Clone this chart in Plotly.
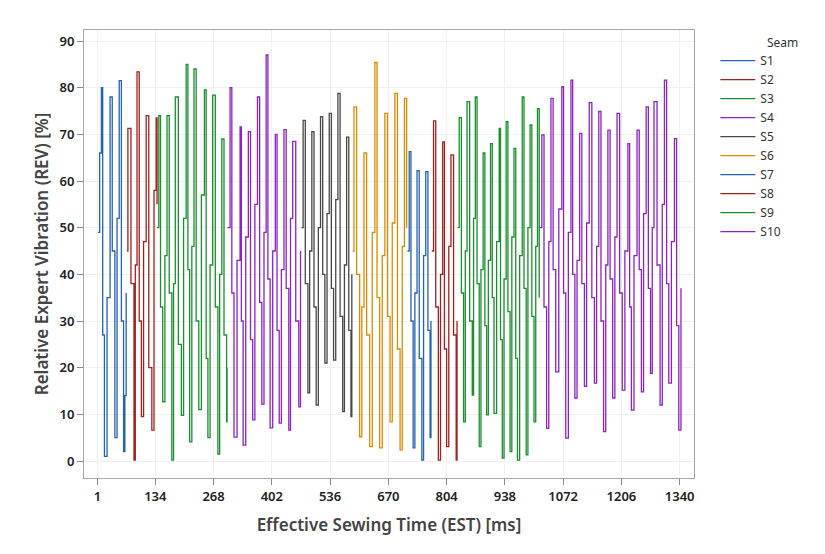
import plotly.graph_objects as go

# ---- data (time in ms, vibration in %) ----
S1_x = [2, 6, 10, 13, 17, 23, 30, 35, 41, 46, 51, 56, 61, 64, 67]
S1_y = [49, 66, 80, 27, 1, 35, 78, 45, 5, 52, 81.5, 30, 2, 14, 36]

S2_x = [69, 71, 78, 85, 88, 92, 97, 102, 107, 113, 119, 126, 131, 136, 138]
S2_y = [45, 71.3, 38, 0.2, 42, 83.4, 30, 9.5, 47, 74, 20, 6.6, 58, 73.5, 55]

S3_x = [138, 142, 146, 151, 156, 161, 166, 172, 176, 180, 187, 194, 199, 205, 209, 213,
        218, 223, 228, 234, 240, 247, 251, 255, 260, 266, 272, 278, 282, 287, 292, 298, 299]
S3_y = [50, 74, 33, 12.7, 44, 74, 36, 0.2, 38, 78, 25, 9.8, 52, 85, 41, 4.1,
        46, 84, 30, 11, 57, 79.5, 22, 5, 42, 78.4, 33, 1.5, 40, 69, 27, 8.4, 20]

S4_x = [300, 306, 310, 315, 322, 329, 332, 336, 342, 348, 353, 358, 363, 369, 374, 379,
        384, 389, 393, 398, 404, 410, 414, 419, 424, 430, 435, 441, 445, 450, 457, 464, 468]
S4_y = [50, 80, 36, 5.1, 43, 71.6, 30, 3.4, 48, 70.6, 26, 8.8, 55, 78, 34, 12.2,
        49, 87, 39, 7.1, 45, 70, 28, 8.1, 41, 71, 37, 6.6, 52, 68.5, 30, 11.6, 45]

S5_x = [470, 474, 479, 485, 489, 494, 499, 504, 509, 514, 519, 524, 529, 534, 539, 544,
        549, 554, 559, 565, 569, 574, 579, 584, 586]
S5_y = [50, 73, 38, 14.6, 45, 70.6, 33, 12, 50, 73.8, 40, 21, 53, 74.5, 37, 21.6,
        56, 78.8, 31, 10.6, 42, 69.4, 28, 9.5, 40]

S6_x = [588, 591, 597, 604, 609, 614, 620, 627, 633, 639, 644, 650, 656, 662, 668, 674,
        679, 685, 691, 697, 702, 707, 712]
S6_y = [45, 75.9, 40, 5.2, 33, 66, 27, 3.1, 49, 85.4, 35, 2.8, 44, 74.5, 31, 8.4,
        51, 78.8, 24, 2.4, 46, 77.7, 50]

S7_x = [714, 718, 722, 727, 731, 736, 741, 747, 751, 756, 761, 766, 768]
S7_y = [45, 66.3, 30, 2.8, 36, 62.2, 22, 0.2, 44, 62, 28, 5, 30]

S8_x = [770, 774, 779, 785, 790, 795, 799, 804, 809, 814, 820, 826, 828]
S8_y = [45, 72.9, 33, 0.2, 40, 68.4, 24, 3.1, 46, 65.6, 27, 0.2, 30]

S9_x = [829, 833, 838, 843, 847, 851, 857, 863, 866, 870, 874, 879, 883, 888, 892, 896,
        900, 905, 909, 913, 919, 925, 928, 932, 936, 941, 945, 950, 954, 959, 963, 967,
        972, 978, 982, 987, 991, 996, 1000, 1005, 1009, 1013, 1017]
S9_y = [50, 73.6, 36, 8.4, 45, 77, 30, 14.1, 52, 78, 38, 3.1, 41, 66, 29, 9.9,
        43, 68, 35, 10.2, 47, 71.3, 26, 0.6, 39, 72.7, 32, 2, 48, 67, 22, 0.2,
        44, 78, 37, 1.3, 50, 72, 31, 8.4, 46, 75.5, 35]

S10_x = [1019, 1023, 1028, 1034, 1039, 1044, 1049, 1055, 1062, 1069, 1073, 1078, 1084,
         1090, 1094, 1099, 1104, 1110, 1115, 1121, 1126, 1132, 1138, 1144, 1149, 1154,
         1159, 1165, 1170, 1175, 1180, 1186, 1191, 1196, 1202, 1208, 1214, 1221, 1225,
         1229, 1235, 1242, 1247, 1252, 1257, 1263, 1268, 1273, 1277, 1281, 1288, 1295,
         1300, 1305, 1310, 1315, 1321, 1328, 1333, 1338, 1343]
S10_y = [50, 69.9, 33, 7, 47, 77.7, 41, 19.1, 54, 80.2, 36, 4.9, 49,
         81.6, 40, 13.5, 43, 70.2, 38, 16, 51, 76.8, 35, 16.7, 46, 74.9,
         30, 6.3, 42, 70.9, 39, 13.5, 48, 74.5, 36, 15.2, 45, 68, 33,
         10.9, 44, 70.9, 41, 14.8, 53, 75.9, 37, 18.8, 50, 77, 42, 12,
         55, 81.6, 38, 16.7, 47, 69.1, 29, 6.6, 37]

SEAMS = ["S1", "S2", "S3", "S4", "S5", "S6", "S7", "S8", "S9", "S10"]
XS = [S1_x, S2_x, S3_x, S4_x, S5_x, S6_x, S7_x, S8_x, S9_x, S10_x]
YS = [S1_y, S2_y, S3_y, S4_y, S5_y, S6_y, S7_y, S8_y, S9_y, S10_y]

X_TICKS = [1, 134, 268, 402, 536, 670, 804, 938, 1072, 1206, 1340]
Y_TICKS = [0, 10, 20, 30, 40, 50, 60, 70, 80, 90]

COLORS = ["#2363B2", "#A3201E", "#18902C", "#8E22C2", "#474747",
          "#DE8B00", "#2363B2", "#A3201E", "#18902C", "#8E22C2"]

fig = go.Figure()
for name, xs, ys, c in zip(SEAMS, XS, YS, COLORS):
    fig.add_trace(go.Scatter(x=xs, y=ys, mode="lines", name=name,
                             line=dict(color=c, width=1.3, shape="hv")))

font_family = "Noto Sans"
# page body has an 8px margin, so the figure is drawn 8px in from the window edge
fig.update_layout(
    width=817, height=546,
    margin=dict(l=76, r=131, t=22, b=76, autoexpand=False),
    paper_bgcolor="white", plot_bgcolor="white",
    font=dict(family=font_family, color="#222"),
    legend=dict(
        font=dict(size=12, color="#333"),
        x=1.035, y=0.964, xanchor="left", yanchor="top",
        bgcolor="rgba(0,0,0,0)", itemwidth=35,
    ),
    annotations=[dict(text="Seam", xref="paper", yref="paper",
                      x=1.117, y=0.972, xanchor="left", yanchor="middle",
                      showarrow=False, font=dict(size=12, color="#333"))],
    xaxis=dict(
        automargin=False,
        range=[-30, 1373], tickmode="array", tickvals=X_TICKS,
        ticktext=[str(v) for v in X_TICKS],
        ticks="outside", ticklen=6, tickcolor="#888",
        showline=True, mirror=True, linecolor="#A8A8A8", linewidth=1,
        showgrid=True, gridcolor="#F1F1F1", zeroline=False,
        tickfont=dict(size=13, color="#222", weight=600),
        title=dict(text="Effective Sewing Time (EST) [ms]",
                   font=dict(size=17, color="#444", weight=600), standoff=15),
    ),
    yaxis=dict(
        automargin=False,
        range=[-3.64, 92.36], tickmode="array", tickvals=Y_TICKS,
        ticks="outside", ticklen=6, tickcolor="#888",
        showline=True, mirror=True, linecolor="#A8A8A8", linewidth=1,
        showgrid=True, gridcolor="#F1F1F1", zeroline=False,
        tickfont=dict(size=13, color="#222", weight=600),
        title=dict(text="Relative Expert Vibration (REV) [%]",
                   font=dict(size=17, color="#444", weight=600), standoff=6),
    ),
)

fig.write_html("out.html")
